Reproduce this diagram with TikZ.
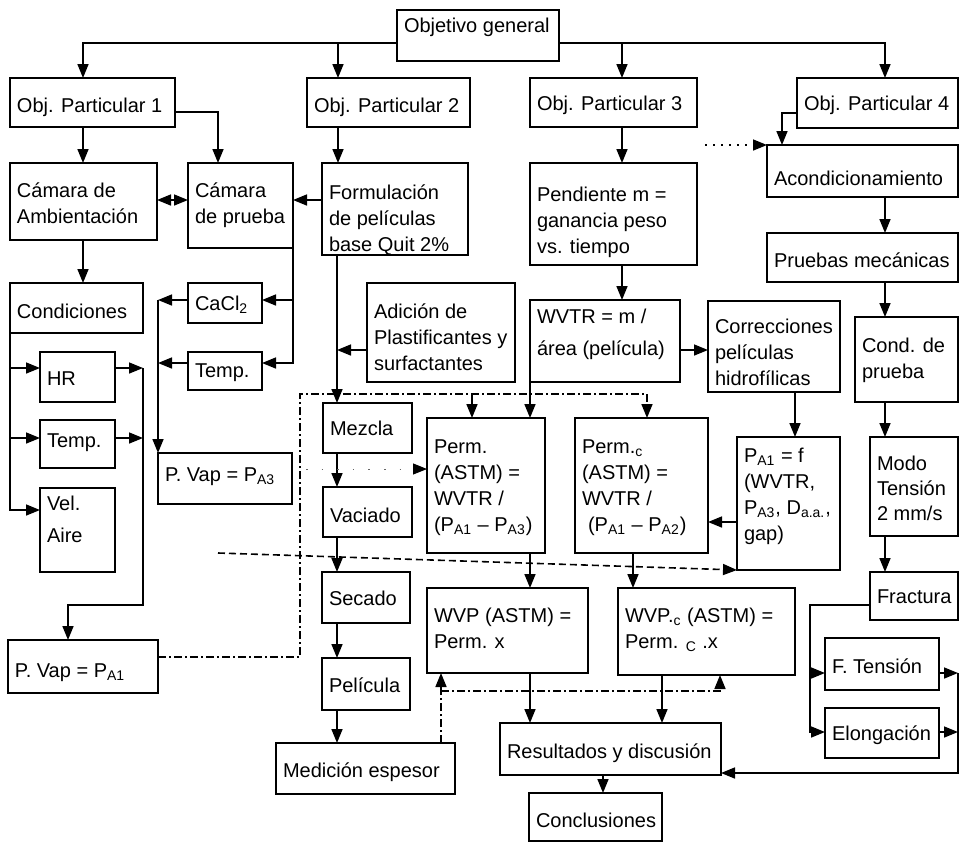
\documentclass[tikz,border=0pt]{standalone}
\usepackage{fontspec}
\setmainfont{Liberation Sans}
\usetikzlibrary{arrows.meta}

% one drawing unit = 0.5pt
\newlength\px
\setlength\px{0.5pt}
\newcommand\sub[1]{\textsubscript{#1}}
% \boxnode{name}{x1}{y1}{x2}{y2}{first baseline}{text}
\newcommand\boxnode[7]{%
  \node[bx] (#1) at (#2,#3) {\parbox[c][\dimexpr#5\px-#3\px\relax][t]{\dimexpr#4\px-#2\px\relax}{%
    \fontsize{10pt}{13pt}\selectfont\raggedright\leftskip=7\px\relax
    \rule{0pt}{#6\px}#7}};}

\tikzset{
  bx/.style={draw, line width=0.8pt, anchor=north west, inner sep=0pt, outer sep=0pt},
  ln/.style={line width=0.8pt},
  arr/.style={ln, -{Triangle[length=7pt,width=5.5pt]}},
  arrtwo/.style={ln, {Triangle[length=7pt,width=5.5pt]}-{Triangle[length=7pt,width=5.5pt]}},
  dashdot/.style={dash pattern=on 4pt off 1.5pt on 1pt off 1.5pt},
  dsh/.style={dash pattern=on 3.5pt off 2pt},
  faint/.style={line width=0.6pt, dash pattern=on 1pt off 3pt},
  fainter/.style={line width=0.5pt, black!60, dash pattern=on 0.8pt off 7pt,
    -{Triangle[length=7pt,width=5.5pt,color=black]}},
}

\begin{document}
\begin{tikzpicture}[x=0.5pt,y=-0.5pt]
\fill[white] (0,0) rectangle (960,842);
\useasboundingbox (0,0) rectangle (960,842);

% ---------- boxes ----------
\boxnode{gen}{397}{10}{559}{61}{22}{Objetivo general}
\boxnode{p1}{10}{78}{175}{127}{34}{Obj. Particular 1}
\boxnode{p2}{307}{78}{470}{127}{34}{Obj. Particular 2}
\boxnode{p3}{530}{78}{697}{127}{32}{Obj. Particular 3}
\boxnode{p4}{797}{78}{958}{128}{32}{Obj. Particular 4}
\boxnode{camamb}{10}{163}{157}{240}{34}{Cámara de\\Ambientación}
\boxnode{campr}{188}{163}{293}{248}{34}{Cámara\\de prueba}
\boxnode{form}{322}{163}{468}{255}{36}{Formulación\\de películas\\base Quit 2\%}
\boxnode{pend}{530}{163}{697}{265}{38}{Pendiente m =\\ganancia peso\\vs. tiempo}
\boxnode{acond}{767}{145}{958}{197}{40}{Acondicionamiento}
\boxnode{pruebas}{767}{233}{958}{282}{34}{Pruebas mecánicas}
\boxnode{cond}{10}{283}{143}{333}{35}{Condiciones}
\boxnode{cacl}{188}{283}{262}{323}{27}{CaCl\sub{2}}
\boxnode{tempm}{188}{352}{262}{390}{25}{Temp.}
\boxnode{adic}{367}{283}{515}{382}{35}{Adición de\\Plastificantes~y\\surfactantes}
\boxnode{wvtr}{530}{300}{680}{382}{23}{\baselineskip=16pt WVTR = m /\\área (película)}
\boxnode{corr}{708}{301}{840}{392}{32}{Correcciones\\películas\\hidrofílicas}
\boxnode{condp}{855}{317}{958}{402}{35}{Cond. de\\prueba}
\boxnode{hr}{40}{352}{115}{402}{33}{HR}
\boxnode{templ}{40}{420}{115}{468}{27}{Temp.}
\boxnode{vel}{40}{488}{115}{572}{22}{\baselineskip=16pt Vel.\\Aire}
\boxnode{pvap3}{158}{453}{292}{504}{28}{P. Vap = P\sub{A3}}
\boxnode{mezcla}{323}{403}{412}{453}{32}{Mezcla}
\boxnode{vaciado}{323}{487}{412}{537}{35}{Vaciado}
\boxnode{perm}{427}{418}{545}{553}{35}{Perm.\\(ASTM) =\\WVTR /\\(P\sub{A1}~–~P\sub{A3})}
\boxnode{permc}{575}{418}{708}{553}{35}{Perm.\sub{c}\\(ASTM) =\\WVTR /\\\hspace*{3pt}(P\sub{A1}~–~P\sub{A2})}
\boxnode{pa1f}{737}{437}{840}{570}{25}{P\sub{A1} = f\\(WVTR,\\P\sub{A3}, D\sub{a.a.},\\gap)}
\boxnode{modo}{870}{437}{958}{536}{33}{\baselineskip=12.5pt Modo\\Tensión\\2 mm/s}
\boxnode{fract}{870}{572}{958}{620}{31}{Fractura}
\boxnode{ften}{825}{638}{939}{690}{35}{F. Tensión}
\boxnode{elong}{825}{708}{939}{758}{32}{Elongación}
\boxnode{secado}{322}{572}{410}{623}{33}{Secado}
\boxnode{pelic}{322}{658}{410}{710}{34}{Película}
\boxnode{medic}{276}{743}{455}{794}{34}{Medición espesor}
\boxnode{pvap1}{8}{640}{158}{693}{37}{P. Vap = P\sub{A1}}
\boxnode{wvp}{427}{588}{588}{673}{34}{WVP (ASTM) =\\Perm. x}
\boxnode{wvpc}{618}{588}{795}{675}{34}{WVP.\sub{c} (ASTM) =\\Perm. \sub{C} .x}
\boxnode{result}{500}{723}{721}{775}{35}{Resultados y discusión}
\boxnode{concl}{529}{793}{662}{841}{34}{Conclusiones}

% junction points on the top trunk
\coordinate (tTwo) at (338,43);
\coordinate (tThree) at (622,43);

% ---------- general objective ----------
\draw[arr] (gen.west |- 0,43) -| (p1.north -| 83,0);
\draw[arr] (gen.east |- 0,43) -| (p4.north -| 885,0);
\draw[arr] (tTwo) -- (p2.north -| 338,0);
\draw[arr] (tThree) -- (p3.north -| 622,0);

% ---------- objective 1 ----------
\draw[arr] (p1.south -| 83,0) -- (camamb.north -| 83,0);
\draw[arr] (p1.east |- 0,112) -| (campr.north -| 218,0);
\draw[arrtwo] (camamb.east |- 0,200) -- (campr.west |- 0,200);
\draw[arr] (form.west |- 0,200) -- (campr.east |- 0,200);
\draw[arr] (camamb.south -| 83,0) -- (cond.north -| 83,0);

\draw[arr] (cond.south west) |- (vel.west |- 0,510);
\draw[arr] (cond.south west |- 0,368) -- (hr.west |- 0,368);
\draw[arr] (cond.south west |- 0,438) -- (templ.west |- 0,438);
\draw[arr] (hr.east |- 0,368) -- (cond.east |- 0,368);
\draw[arr] (templ.east |- 0,438) -- (cond.east |- 0,438);
\draw[arr] (cond.east |- 0,368) -- (cond.east |- 0,605) -| (pvap1.north -| 68,0);

\draw[arr] (campr.south east) |- (tempm.east |- 0,363);
\draw[arr] (campr.east |- 0,300) -- (cacl.east |- 0,300);
\draw[arr] (cacl.west |- 0,300) -- (pvap3.west |- 0,300);
\draw[arr] (tempm.west |- 0,363) -- (pvap3.west |- 0,363);
\draw[arr] (pvap3.west |- 0,300) -- (pvap3.north west);

% ---------- objective 2 ----------
\draw[arr] (p2.south -| 338,0) -- (form.north -| 338,0);
\draw[arr] (form.south -| 337,0) -- (mezcla.north -| 337,0);
\draw[arr] (adic.west |- 0,350) -- (337,350);
\draw[arr] (mezcla.south -| 337,0) -- (vaciado.north -| 337,0);
\draw[arr] (vaciado.south -| 337,0) -- (secado.north -| 337,0);
\draw[arr] (secado.south -| 337,0) -- (pelic.north -| 337,0);
\draw[arr] (pelic.south -| 337,0) -- (medic.north -| 337,0);

% ---------- objective 3 ----------
\draw[arr] (p3.south -| 622,0) -- (pend.north -| 622,0);
\draw[arr] (pend.south -| 622,0) -- (wvtr.north -| 622,0);
\draw[arr] (wvtr.east |- 0,350) -- (corr.west |- 0,350);
\draw[arr] (corr.south -| 795,0) -- (pa1f.north -| 795,0);
\draw[arr] (pa1f.west |- 0,522) -- (permc.east |- 0,522);
\draw[arr] (wvtr.south west) -- (perm.north -| 530,0);
\draw[arr] (perm.south -| 530,0) -- (wvp.north -| 530,0);
\draw[arr] (permc.south -| 633,0) -- (wvpc.north -| 633,0);
\draw[arr] (wvp.south -| 530,0) -- (result.north -| 530,0);
\draw[arr] (wvpc.south -| 662,0) -- (result.north -| 662,0);
\draw[arr] (result.south -| 603,0) -- (concl.north -| 603,0);

% ---------- objective 4 ----------
\draw[arr] (p4.west |- 0,113) -| (acond.north -| 782,0);
\draw[arr] (acond.south -| 885,0) -- (pruebas.north -| 885,0);
\draw[arr] (pruebas.south -| 885,0) -- (condp.north -| 885,0);
\draw[arr] (condp.south -| 885,0) -- (modo.north -| 885,0);
\draw[arr] (modo.south -| 885,0) -- (fract.north -| 885,0);
\draw[arr] (fract.west |- 0,605) -| (810,732) -- (elong.west |- 0,732);
\draw[arr] (810,673) -- (ften.west |- 0,673);
\draw[arr] (ften.east |- 0,673) -- (958,673);
\draw[arr] (elong.east |- 0,732) -- (958,732);
\draw[arr] (958,673) |- (result.east |- 0,773);

% ---------- dashed and dotted links ----------
\coordinate (dotA) at (705,145);
\draw[faint, arr] (dotA) -- (acond.north west);
\draw[ln, dashdot, arr] (pvap1.east |- 0,657) -- (300,657) -- (300,394) -| (permc.north -| 647,0);
\draw[arr] (472,394) -- (perm.north -| 472,0);
\draw[fainter] (306,469) -- (perm.west |- 0,469);
\draw[ln, dsh, arr] (218,553) -- (pa1f.south west);
\draw[ln, dashdot, arr] (medic.north -| 441,0) -- (wvp.south -| 441,0);
\draw[ln, dashdot, arr] (441,691) -| (wvpc.south -| 720,0);
\end{tikzpicture}
\end{document}
